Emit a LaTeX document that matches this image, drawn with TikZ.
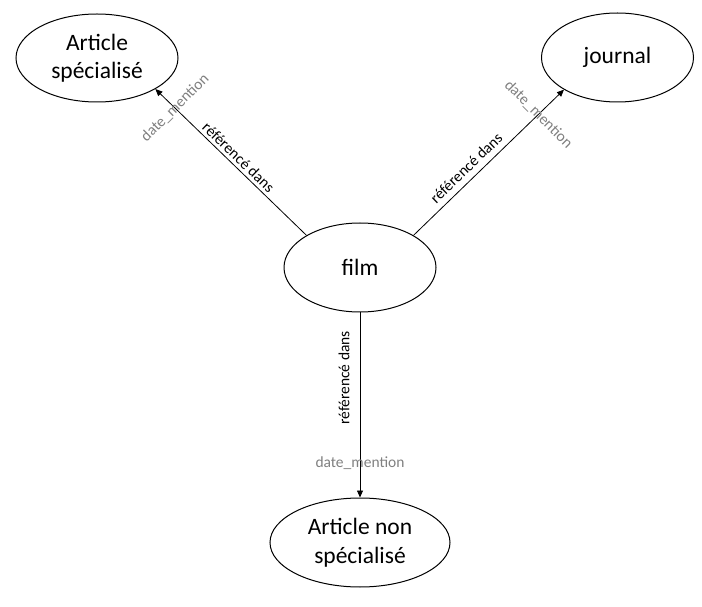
\documentclass[tikz,border=0pt]{standalone}
\usepackage{fontspec}
\setmainfont{Carlito}
\usepackage{xcolor}
\usepackage{tikz}
\usetikzlibrary{arrows.meta,shapes.geometric}
\definecolor{mentiongray}{RGB}{128,128,128}

\begin{document}
\begin{tikzpicture}[x=1pt,y=1pt,->,>={Triangle[length=7pt,width=6pt]},
  line width=0.8pt,
  main node/.style={ellipse,draw,line width=1pt,inner sep=0pt,align=center,
    font=\fontsize{23.5}{28.5}\selectfont},
  ref label/.style={anchor=south,inner xsep=0pt,font=\fontsize{15.5}{18}\selectfont},
  date label/.style={inner sep=0pt,text=mentiongray,font=\fontsize{15.5}{18}\selectfont}]
  \useasboundingbox (0,0) rectangle (702,606);
  \node[main node,minimum width=162pt,minimum height=88pt] (art_spec) at (97,548) {Article\\spécialisé};
  \node[main node,minimum width=152pt,minimum height=89pt] (journal) at (617.5,548.5) {journal};
  \node[main node,minimum width=152pt,minimum height=89pt] (film) at (360,338.5) {film};
  \node[main node,minimum width=180pt,minimum height=89pt] (art_nonspec) at (360,63.5) {Article non\\spécialisé};
  \path
    (film.149.6) edge node[ref label,sloped,pos=0.49,inner ysep=3pt] {référencé dans}
                      node[date label,pos=0.87,rotate=45] {date\_mention} (art_spec.-28.7)
    (film.31) edge node[ref label,sloped,pos=0.405,inner ysep=6pt] {référencé dans}
                   node[date label,pos=0.83,rotate=-45] {date\_mention} (journal.211.4)
    (film.south) edge node[ref label,rotate=90,pos=0.353,inner ysep=10pt] {référencé dans}
                      node[date label,pos=0.814] {date\_mention} (art_nonspec.north);
\end{tikzpicture}
\end{document}
